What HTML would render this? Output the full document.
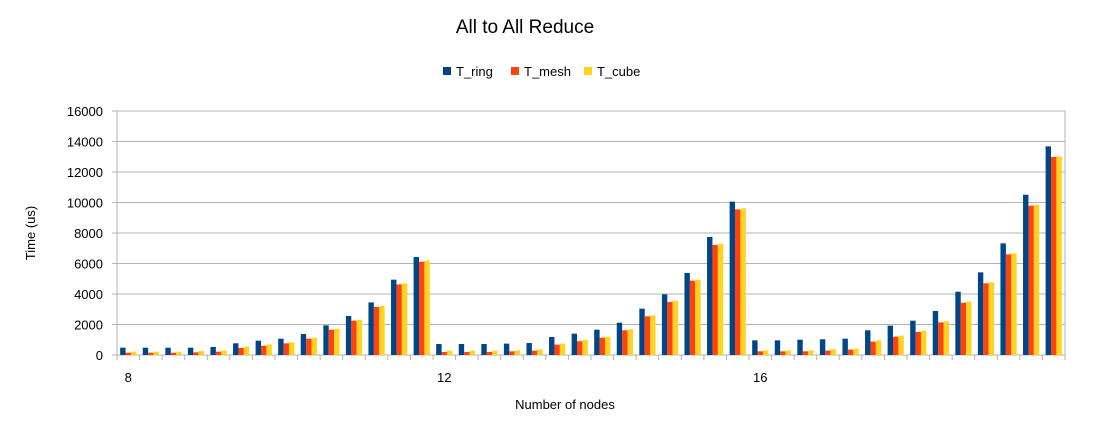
<!DOCTYPE html>
<html><head><meta charset="utf-8"><style>
body{margin:0;background:#fff;font-family:"Liberation Sans",sans-serif}
</style></head><body>
<svg id="chart" width="1100" height="421" xmlns="http://www.w3.org/2000/svg" font-family="Liberation Sans, sans-serif">
<text x="525" y="33" text-anchor="middle" font-size="19">All to All Reduce</text>
<g id="legend"></g>
<g id="grid"></g><g id="bars"></g><g id="axes"></g>
<text transform="translate(35,233) rotate(-90)" text-anchor="middle" font-size="13">Time (us)</text>
<text x="565" y="409" text-anchor="middle" font-size="13">Number of nodes</text>
</svg>
<script>
const series = ["T_ring","T_mesh","T_cube"];
const colors = ["#004586","#ff420e","#ffd320"];
const ring = [480,480,480,480,525,765,940,1070,1375,1945,2560,3450,4940,6425,
 720,720,720,745,785,1180,1400,1660,2120,3040,3980,5380,7740,10055,
 960,960,1005,1030,1070,1620,1925,2250,2885,4150,5420,7320,10510,13680];
const mesh = [150,150,150,175,220,460,610,765,1070,1660,2250,3150,4630,6120,
 200,200,200,240,285,680,900,1135,1620,2535,3475,4875,7215,9550,
 240,240,240,285,350,875,1200,1510,2140,3430,4700,6600,9790,12985];
const cube = [220,220,220,260,300,545,700,830,1135,1725,2315,3215,4700,6185,
 285,285,285,305,370,745,985,1200,1685,2600,3560,4940,7300,9615,
 305,305,305,370,415,960,1270,1575,2210,3500,4765,6665,9855,13025];
const categoryLabels = ["8","","","","","","","","","","","","","",
 "12","","","","","","","","","","","","","",
 "16","","","","","","","","","","","","",""];
const yTicks = [0,2000,4000,6000,8000,10000,12000,14000,16000];

const NS="http://www.w3.org/2000/svg";
const L=117,R=1065,T=111,B=355,YMAX=16000;
const n=ring.length, cw=(R-L)/n;
const y=v=>B-(v/YMAX)*(B-T);
const xc=i=>L+cw*i;
function mk(tag,attrs,parent){const e=document.createElementNS(NS,tag);for(const k in attrs)e.setAttribute(k,attrs[k]);parent.appendChild(e);return e;}
const grid=document.getElementById('grid'),bars=document.getElementById('bars'),axes=document.getElementById('axes'),legend=document.getElementById('legend');
yTicks.forEach(t=>{
  const g=mk('line',{x1:L-5,x2:R,y1:y(t),y2:y(t),stroke:'#b3b3b3','stroke-width':1},grid);
  
  
  const tx=mk('text',{x:L-14,y:y(t)+5,'text-anchor':'end','font-size':13},axes);
  tx.textContent=t;
  
  
});
mk('line',{x1:L,x2:L,y1:T,y2:B,stroke:'#b3b3b3'},axes);
mk('line',{x1:R,x2:R,y1:T,y2:B,stroke:'#b3b3b3'},axes);
for(let i=0;i<=n;i++){mk('line',{x1:xc(i),x2:xc(i),y1:B,y2:B+5,stroke:'#b3b3b3'},axes);}
const data=[ring,mesh,cube];const bw=5.4;
for(let i=0;i<n;i++){
  const c=xc(i)+cw/2;
  data.forEach((arr,s)=>{
    const r=mk('rect',{x:c-1.5*bw+s*bw,y:y(arr[i]),width:bw,height:B-y(arr[i]),fill:colors[s]},bars);
    
    
  });
  if(categoryLabels[i]){
    const tx=mk('text',{x:c,y:B+27,'text-anchor':'middle','font-size':13},axes);
    tx.textContent=categoryLabels[i];
    
    
  }
}
const lx=[443,511,584];
series.forEach((s,k)=>{
  const r=mk('rect',{x:lx[k],y:67,width:8,height:8,fill:colors[k]},legend);
  
  
  const t=mk('text',{x:lx[k]+13,y:76,'font-size':13},legend);
  t.textContent=s;
  
  
});
</script>
</body></html>
